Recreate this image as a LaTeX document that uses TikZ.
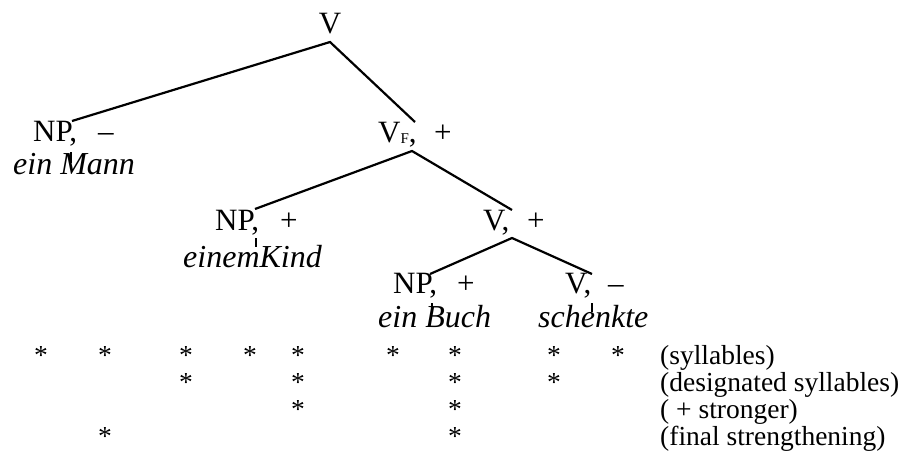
\documentclass[tikz,border=0pt]{standalone}
\usepackage{fontspec}
\setmainfont{Liberation Serif}
\newcommand{\treefont}{\fontsize{31}{37}\selectfont}
\newcommand{\wordfont}{\fontsize{32}{38}\selectfont\itshape}
\newcommand{\labfont}{\fontsize{27.5}{33}\selectfont}
\tikzset{
  cat/.style={anchor=base west, inner sep=0pt, font=\treefont},
  word/.style={anchor=base west, inner sep=0pt, font=\wordfont},
  starmark/.style={anchor=base, inner sep=0pt, font=\labfont},
  rowlab/.style={anchor=base west, inner sep=0pt, font=\labfont},
  edge/.style={line width=2.2pt},
}
\begin{document}
\begin{tikzpicture}[x=1pt,y=-1pt]
\useasboundingbox (0,0) rectangle (901,450);
% tree labels
\node[cat, anchor=base] (root) at (330,33) {V};
\node[cat] (np1) at (33,141) {NP,};
\node[cat] (np1s) at (98,141) {–};
\node[word] (w1) at (13,174) {ein Mann};
\node[cat] (vf) at (378,142) {V{\fontsize{15}{18}\selectfont\raisebox{-1pt}{F}},};
\node[cat] (vfs) at (434,142) {+};
\node[cat] (np2) at (215,230) {NP,};
\node[cat] (np2s) at (280,230) {+};
\node[word] (w2) at (183,267) {einemKind};
\node[cat] (v2) at (483,230) {V,};
\node[cat] (v2s) at (527,230) {+};
\node[cat] (np3) at (393,293) {NP,};
\node[cat] (np3s) at (457,293) {+};
\node[word] (w3) at (378,327) {ein Buch};
\node[cat] (v3) at (565,293) {V,};
\node[cat] (v3s) at (608,293) {–};
\node[word] (w4) at (538,327) {schenkte};
% attachment points
\coordinate (rootB) at (330,42);
\coordinate (np1T) at (72,121);
\coordinate (np1B) at (71,152);
\coordinate (w1T) at (71,163);
\coordinate (vfT) at (415,122);
\coordinate (vfB) at (412,151);
\coordinate (np2T) at (255,209);
\coordinate (np2B) at (256,238);
\coordinate (w2T) at (256,247);
\coordinate (v2T) at (512,210);
\coordinate (v2B) at (512,238);
\coordinate (np3T) at (430,274);
\coordinate (np3B) at (432,303);
\coordinate (w3T) at (432,312);
\coordinate (v3T) at (592,274);
\coordinate (v3B) at (592,303);
\coordinate (w4T) at (592,312);
% edges
\draw[edge] (np1T) -- (rootB) -- (vfT);
\draw[edge] (np1B) -- (w1T);
\draw[edge] (np2T) -- (vfB) -- (v2T);
\draw[edge] (np2B) -- (w2T);
\draw[edge] (np3T) -- (v2B) -- (v3T);
\draw[edge] (np3B) -- (w3T);
\draw[edge] (v3B) -- (w4T);
% grid of stars
\foreach \x [count=\i] in {41,105,186,250,298,393,455,554,618}
  \node[starmark] (sa\i) at (\x,364) {*};
\foreach \x [count=\i] in {186,298,455,554}
  \node[starmark] (sb\i) at (\x,391) {*};
\foreach \x [count=\i] in {298,455}
  \node[starmark] (sc\i) at (\x,418) {*};
\foreach \x [count=\i] in {105,455}
  \node[starmark] (sd\i) at (\x,445) {*};
% row labels
\node[rowlab] (la) at (660,364) {(syllables)};
\node[rowlab] (lb) at (660,391) {(designated syllables)};
\node[rowlab] (lc) at (660,418) {( + stronger)};
\node[rowlab] (ld) at (660,445) {(final strengthening)};
\end{tikzpicture}
\end{document}
